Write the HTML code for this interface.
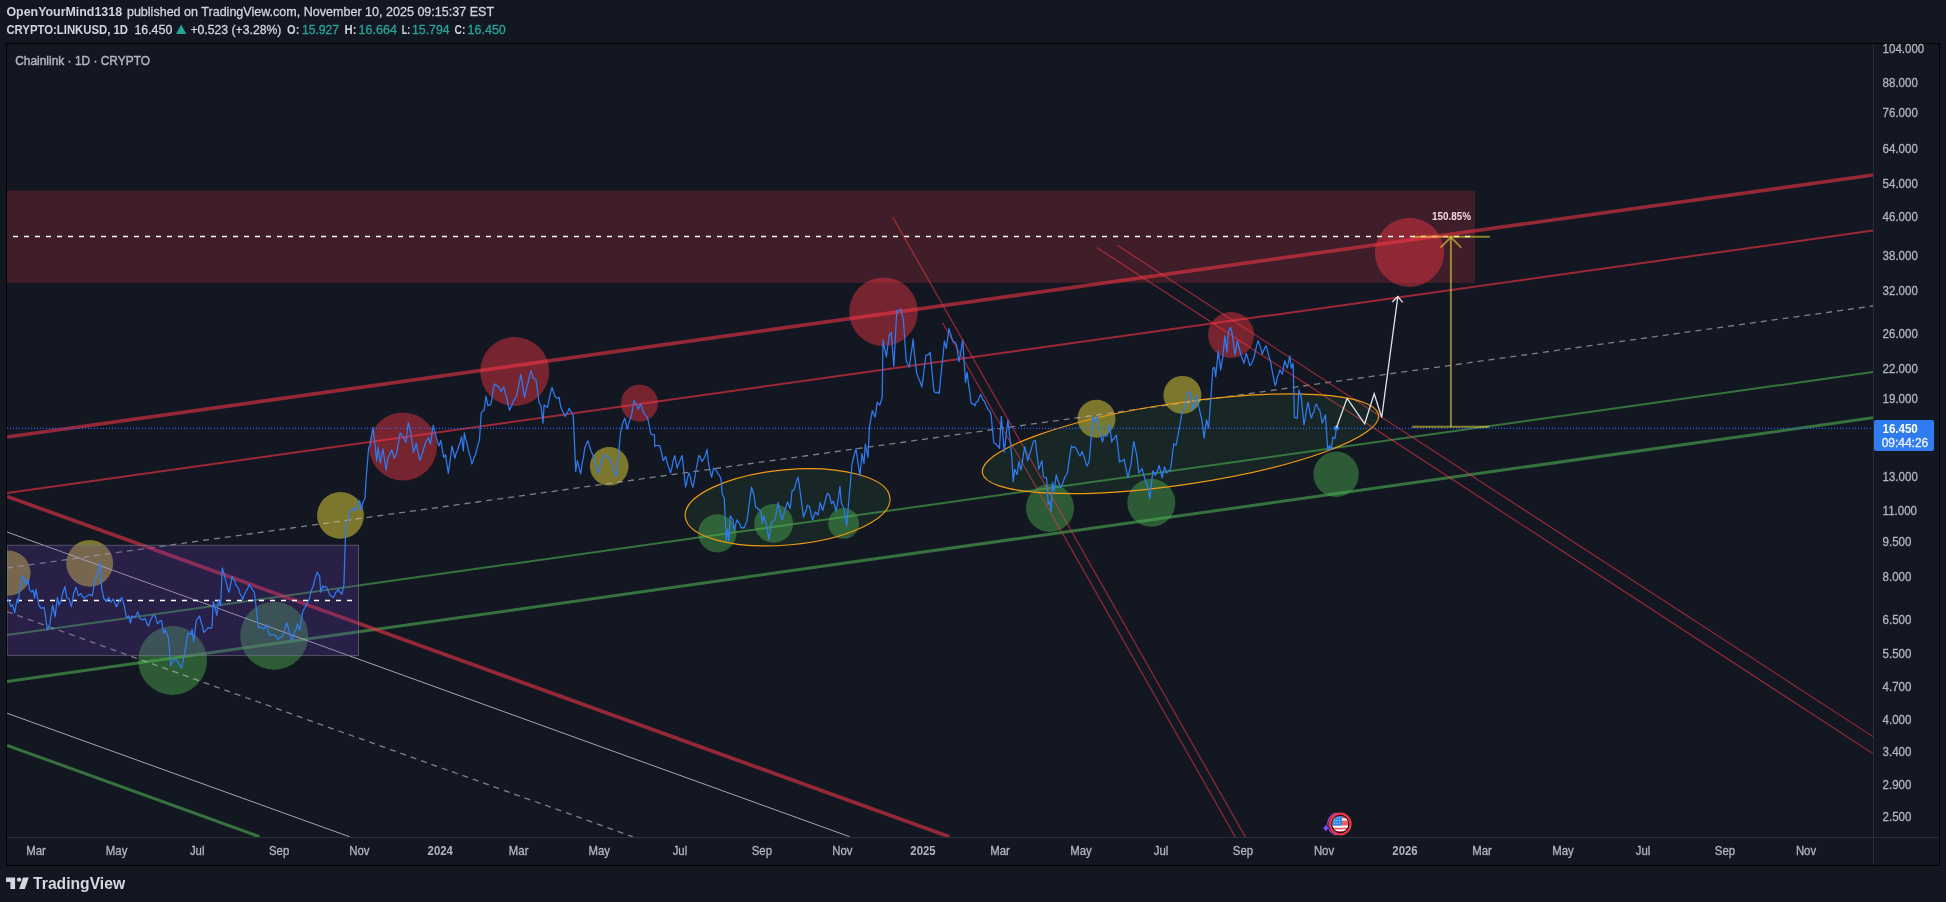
<!DOCTYPE html>
<html><head><meta charset="utf-8">
<style>
html,body{margin:0;padding:0;}
body{width:1946px;height:902px;overflow:hidden;background:#131722;position:relative;}
svg{position:absolute;left:0;top:0;font-family:"Liberation Sans",sans-serif;}
.tx{will-change:transform;}
</style></head><body>
<svg width="1946" height="902" viewBox="0 0 1946 902">
<defs><clipPath id="cp"><rect x="7" y="44" width="1866" height="793"/></clipPath></defs>
<rect x="6.5" y="43.5" width="1933" height="822" fill="#131722" stroke="#000" stroke-width="1"/>
<g clip-path="url(#cp)">
<rect x="7" y="190.6" width="1468" height="92.3" fill="rgba(242,54,69,0.2)"/>
<g fill="rgba(242,54,69,0.45)">
<circle cx="403" cy="446.5" r="34"/>
<circle cx="514.7" cy="371.5" r="34.5"/>
<circle cx="639.5" cy="403.2" r="18.5"/>
<circle cx="883.5" cy="311.8" r="34.3"/>
<circle cx="1231.1" cy="334.9" r="23"/>
<circle cx="1409.5" cy="252.4" r="34.6"/>
</g>
<g fill="rgba(255,235,59,0.45)">
<circle cx="8" cy="573.1" r="22.6"/>
<circle cx="89.7" cy="563.3" r="23.4"/>
<circle cx="340.5" cy="515.4" r="23.4"/>
<circle cx="609.2" cy="466.3" r="19.3"/>
<circle cx="1096.5" cy="418.7" r="19"/>
<circle cx="1182.4" cy="394.9" r="19"/>
</g>
<g fill="rgba(76,175,80,0.45)">
<circle cx="172.6" cy="660.5" r="34.4"/>
<circle cx="274.2" cy="635.7" r="34"/>
<circle cx="717.3" cy="533.3" r="19.1"/>
<circle cx="773.7" cy="523.4" r="19.4"/>
<circle cx="843.7" cy="523.4" r="15.4"/>
<circle cx="1050" cy="508" r="24"/>
<circle cx="1151.3" cy="502.8" r="24"/>
<circle cx="1336.1" cy="474.3" r="22.7"/>
</g>
<line x1="13" y1="236.6" x2="1470" y2="236.6" stroke="#fff" stroke-width="1.5" stroke-dasharray="5,6"/>
<line x1="7" y1="437" x2="1873" y2="175" stroke="rgba(242,54,69,0.58)" stroke-width="3.7"/>
<line x1="7" y1="493" x2="1873" y2="230.6" stroke="rgba(242,54,69,0.62)" stroke-width="2"/>
<line x1="7" y1="568" x2="1873" y2="306" stroke="rgba(200,200,205,0.6)" stroke-width="1.3" stroke-dasharray="6,5"/>
<line x1="7" y1="635" x2="1873" y2="372" stroke="rgba(76,175,80,0.6)" stroke-width="2"/>
<line x1="7" y1="681.5" x2="1873" y2="417.8" stroke="rgba(76,175,80,0.6)" stroke-width="3"/>
<line x1="7" y1="496.4" x2="949.3" y2="836.7" stroke="rgba(242,54,69,0.58)" stroke-width="3.7"/>
<line x1="7" y1="532" x2="849.6" y2="836.7" stroke="rgba(215,215,220,0.75)" stroke-width="1"/>
<line x1="7" y1="611.6" x2="632.7" y2="836.7" stroke="rgba(200,200,205,0.6)" stroke-width="1.3" stroke-dasharray="6,5"/>
<line x1="7" y1="713.2" x2="349.4" y2="836.7" stroke="rgba(215,215,220,0.75)" stroke-width="1"/>
<line x1="7" y1="745.3" x2="259.5" y2="836.7" stroke="rgba(76,175,80,0.6)" stroke-width="3"/>
<line x1="892.8" y1="217.2" x2="1245.4" y2="837" stroke="rgba(242,54,69,0.6)" stroke-width="1.2"/>
<line x1="942.5" y1="322.8" x2="1235.3" y2="837" stroke="rgba(242,54,69,0.6)" stroke-width="1.2"/>
<line x1="1096.5" y1="247.4" x2="1873" y2="753.6" stroke="rgba(242,54,69,0.6)" stroke-width="1.2"/>
<line x1="1117.7" y1="245.6" x2="1873" y2="736.6" stroke="rgba(242,54,69,0.6)" stroke-width="1.2"/>
<ellipse cx="787.6" cy="507.3" rx="102.8" ry="37.6" transform="rotate(-5.16 787.6 507.3)" fill="rgba(76,175,80,0.1)" stroke="#F29A12" stroke-width="1.2"/>
<ellipse cx="1180.5" cy="443.8" rx="200.2" ry="41" transform="rotate(-8.31 1180.5 443.8)" fill="rgba(76,175,80,0.1)" stroke="#F29A12" stroke-width="1.2"/>
<rect x="7" y="545.3" width="351.5" height="110.3" fill="rgba(103,58,183,0.25)" stroke="rgba(120,123,134,0.6)" stroke-width="1"/>
<line x1="6" y1="600.5" x2="352.6" y2="600.5" stroke="#fff" stroke-width="1.6" stroke-dasharray="5,6"/>
<line x1="7" y1="428.3" x2="1873" y2="428.3" stroke="#2962FF" stroke-width="1.2" stroke-dasharray="1,2"/>
<path d="M7.0,598.2 L8.2,600.2 L9.3,602.1 L10.9,606.7 L12.4,604.4 L13.6,608.6 L14.7,612.9 L15.9,606.0 L17.1,599.0 L18.3,602.8 L19.4,592.8 L20.5,585.0 L21.7,577.2 L23.3,576.0 L24.5,580.5 L25.6,585.0 L26.8,581.9 L27.9,578.8 L29.5,589.7 L30.6,590.9 L31.8,592.0 L33.4,590.4 L34.5,598.2 L36.0,589.3 L37.4,597.2 L38.8,605.2 L40.0,606.8 L41.1,608.3 L42.7,607.9 L44.2,607.5 L45.8,618.6 L47.3,629.7 L48.5,627.2 L49.7,624.6 L51.2,614.9 L52.8,605.2 L54.0,611.0 L55.1,616.8 L56.2,607.1 L57.4,597.4 L59.0,605.2 L60.1,602.5 L61.3,599.7 L62.8,592.8 L63.9,589.7 L64.9,586.6 L66.7,597.4 L67.9,598.2 L69.1,599.0 L70.2,602.9 L71.4,606.7 L72.6,600.1 L73.7,593.5 L74.8,590.4 L76.0,587.3 L77.2,591.6 L78.4,595.9 L79.6,594.7 L80.7,593.5 L82.2,595.9 L83.8,598.2 L84.9,597.4 L86.1,596.6 L87.7,595.5 L89.2,594.3 L90.8,595.1 L92.3,595.9 L93.5,589.0 L94.7,582.0 L96.0,577.4 L97.2,572.8 L98.5,569.5 L100.1,562.5 L101.6,588.1 L102.8,593.5 L104.0,599.0 L105.5,600.1 L107.1,601.3 L108.6,597.4 L109.8,599.8 L111.0,602.1 L112.2,600.5 L113.3,599.0 L114.8,602.9 L116.4,606.7 L118.0,603.6 L119.5,600.5 L120.7,599.0 L121.8,597.4 L122.9,601.3 L124.1,605.2 L125.3,611.4 L126.5,617.6 L127.7,616.8 L128.8,616.0 L130.4,623.0 L131.9,616.0 L133.4,616.8 L135.0,617.6 L136.4,614.7 L137.8,611.7 L139.7,618.4 L141.2,619.1 L142.8,619.9 L143.9,619.1 L145.1,618.4 L146.6,622.2 L148.2,626.1 L149.4,623.8 L150.6,619.6 L151.7,618.1 L152.9,615.3 L154.1,615.6 L155.2,616.0 L156.3,619.9 L157.5,623.8 L158.8,622.4 L160.1,620.6 L161.4,620.7 L162.6,626.9 L163.7,633.1 L165.3,630.0 L166.9,633.9 L168.4,637.8 L169.6,651.8 L170.7,665.7 L171.8,663.3 L173.0,660.9 L174.3,660.7 L175.6,659.3 L176.9,660.3 L178.2,662.6 L179.5,664.9 L180.6,666.5 L181.6,668.1 L183.2,660.2 L184.8,652.3 L186.4,642.8 L187.9,633.3 L189.5,633.8 L191.1,634.4 L192.1,629.1 L193.6,641.7 L194.9,631.2 L196.3,620.7 L197.9,618.4 L199.5,616.0 L200.9,621.3 L202.3,625.7 L203.7,632.3 L205.3,630.7 L206.9,629.1 L208.2,627.5 L209.5,627.9 L210.8,628.4 L212.1,627.0 L213.2,601.7 L214.4,605.3 L215.6,610.1 L216.8,615.4 L218.5,599.6 L219.6,602.8 L220.6,605.9 L222.3,568.0 L223.8,573.2 L225.2,578.5 L226.5,583.4 L227.7,588.8 L229.0,592.2 L230.6,584.3 L232.2,576.4 L233.5,579.2 L234.8,581.4 L236.1,585.5 L237.4,586.9 L238.7,588.9 L240.1,594.2 L241.4,595.9 L242.7,599.6 L244.0,595.7 L245.2,592.7 L246.5,590.2 L247.7,588.6 L249.0,584.8 L250.3,585.8 L251.7,588.7 L253.0,590.7 L254.3,592.2 L255.7,603.8 L257.1,616.2 L258.5,628.0 L259.8,627.1 L261.1,627.4 L262.5,628.1 L263.8,629.1 L265.4,627.0 L266.9,624.9 L268.0,629.6 L269.1,634.4 L270.4,635.1 L271.6,634.6 L272.9,634.5 L274.1,635.4 L275.4,635.4 L276.6,637.5 L277.9,639.6 L279.1,638.4 L280.3,637.0 L281.5,637.2 L282.7,635.4 L284.1,631.7 L285.6,626.3 L287.0,622.8 L288.2,627.5 L289.4,631.8 L290.6,637.2 L291.8,640.7 L293.2,637.1 L294.6,631.7 L296.1,629.3 L297.5,623.8 L298.6,627.0 L299.6,630.1 L301.2,620.7 L302.8,611.2 L304.4,608.5 L305.9,605.9 L307.5,602.8 L309.1,599.6 L310.1,595.4 L311.2,591.2 L312.2,588.5 L313.3,585.9 L314.6,580.3 L315.8,576.6 L317.1,572.2 L318.4,574.3 L319.6,576.4 L320.7,592.2 L321.8,589.0 L322.8,585.9 L324.2,587.3 L325.6,586.4 L327.0,588.0 L328.6,591.7 L330.2,595.4 L331.8,596.5 L333.3,597.5 L334.5,595.3 L335.8,592.1 L337.0,591.6 L338.2,589.0 L339.4,591.5 L340.6,592.7 L341.8,594.3 L342.9,589.5 L343.9,584.8 L344.9,553.8 L346.0,522.7 L347.1,521.7 L348.1,520.6 L349.1,515.9 L350.2,511.1 L351.8,509.5 L353.4,507.9 L354.4,509.5 L355.5,511.1 L356.9,508.5 L358.3,503.5 L359.7,500.5 L361.4,510.0 L362.8,502.6 L363.9,500.5 L364.9,498.4 L366.3,476.3 L367.5,462.1 L368.6,448.0 L370.1,445.2 L371.5,436.2 L372.9,427.3 L374.8,442.3 L376.7,461.2 L378.0,447.1 L379.2,455.1 L380.4,463.1 L381.6,456.0 L382.9,448.9 L384.5,459.5 L386.1,470.2 L388.0,457.4 L389.3,455.4 L390.5,452.6 L391.8,449.9 L393.0,454.1 L394.2,458.4 L395.4,456.0 L396.5,453.7 L397.7,447.0 L399.0,439.7 L400.2,432.9 L401.6,434.8 L403.1,436.7 L404.5,439.5 L405.9,442.3 L407.1,432.5 L408.3,422.6 L409.5,426.8 L410.6,431.0 L412.0,441.9 L413.4,452.7 L414.9,448.0 L416.3,443.3 L417.5,449.9 L418.8,455.8 L420.0,460.3 L421.2,456.5 L422.5,452.7 L424.1,447.5 L425.7,442.3 L427.1,440.0 L428.5,437.6 L430.4,444.2 L431.8,434.8 L433.2,425.4 L434.6,431.0 L436.0,436.7 L437.4,441.4 L438.9,446.1 L440.8,440.5 L442.2,448.9 L443.6,457.4 L445.5,454.6 L446.9,464.0 L448.3,473.4 L449.6,464.2 L450.8,455.6 L452.1,446.1 L453.5,452.2 L454.9,458.4 L456.2,452.9 L457.5,450.2 L458.9,445.8 L460.2,442.3 L461.5,436.7 L463.4,450.8 L464.3,432.9 L465.6,438.9 L466.8,442.7 L468.1,448.2 L469.3,454.1 L470.6,457.6 L471.8,464.0 L473.1,460.8 L474.3,456.9 L475.6,454.6 L476.9,448.9 L478.1,444.1 L479.4,440.5 L481.3,412.2 L482.7,411.2 L484.1,410.3 L486.0,396.2 L487.9,405.6 L489.3,405.1 L490.7,404.7 L492.0,398.5 L493.2,389.9 L494.5,383.9 L495.9,384.9 L497.3,385.8 L498.6,387.0 L499.8,389.3 L501.1,391.5 L502.5,389.1 L503.9,386.8 L505.3,393.6 L506.7,397.5 L508.1,404.3 L509.5,410.3 L510.8,407.3 L512.0,405.0 L513.3,400.9 L514.6,399.5 L515.8,397.4 L517.1,394.3 L518.3,387.1 L519.6,380.9 L520.8,374.5 L522.1,381.7 L523.3,390.6 L524.6,397.1 L526.5,387.7 L527.7,384.6 L528.9,378.3 L530.0,374.1 L531.2,370.7 L532.2,374.5 L533.3,378.3 L534.5,378.7 L535.8,379.1 L536.9,386.4 L538.0,394.5 L539.1,403.2 L540.8,404.9 L541.9,414.0 L543.0,423.2 L544.1,404.9 L545.2,405.7 L546.4,406.8 L547.5,407.4 L549.0,400.1 L550.5,392.8 L552.0,387.4 L553.5,392.0 L555.0,396.6 L556.2,397.4 L557.4,398.2 L559.1,397.4 L560.8,407.4 L562.2,410.2 L563.5,413.1 L564.9,416.5 L566.3,413.9 L567.7,412.1 L569.1,408.2 L570.5,410.9 L571.8,412.7 L573.2,414.9 L574.5,443.1 L575.7,471.4 L577.4,460.6 L578.5,465.3 L579.6,469.9 L580.7,473.9 L582.1,463.9 L583.5,457.2 L584.9,447.3 L586.4,444.0 L587.9,440.7 L589.4,445.9 L590.9,450.5 L592.4,454.0 L593.6,457.3 L594.9,460.6 L596.0,465.8 L597.1,469.2 L598.2,473.9 L599.9,467.2 L601.5,460.6 L602.9,458.4 L604.3,455.7 L605.7,454.8 L607.1,456.8 L608.4,457.0 L609.8,459.8 L610.9,462.3 L612.1,466.2 L613.2,470.6 L614.9,473.5 L616.5,476.4 L617.9,460.6 L619.3,446.1 L620.7,431.5 L622.1,425.9 L623.4,421.3 L624.8,418.2 L626.0,423.6 L627.3,429.0 L628.7,423.7 L630.1,419.1 L631.5,415.7 L632.8,408.2 L634.0,400.7 L635.2,402.8 L636.5,404.9 L638.1,409.1 L639.4,406.6 L640.6,404.1 L642.2,408.6 L643.9,413.2 L645.3,415.1 L646.7,416.4 L648.1,419.9 L649.4,426.5 L650.6,433.2 L651.9,434.7 L653.1,434.6 L654.4,434.8 L654.8,446.5 L656.0,445.4 L657.3,445.5 L658.5,445.5 L659.8,445.7 L660.9,450.3 L662.0,454.7 L663.1,460.6 L664.4,458.6 L665.6,456.5 L666.9,461.6 L668.1,466.1 L669.4,468.9 L670.6,473.1 L672.0,467.2 L673.3,460.4 L674.7,455.6 L676.0,461.9 L677.2,468.1 L678.5,463.9 L679.7,461.4 L681.0,458.1 L682.2,455.6 L683.9,471.4 L685.5,487.2 L686.6,483.4 L687.8,476.9 L688.9,473.1 L690.3,476.6 L691.6,483.7 L693.0,487.2 L694.5,479.4 L695.9,470.5 L697.3,463.6 L698.8,455.6 L699.9,456.3 L701.1,459.6 L702.2,461.5 L703.6,459.0 L705.0,456.5 L706.0,452.9 L707.0,449.3 L708.3,461.3 L709.4,467.8 L710.5,472.8 L711.6,477.2 L712.6,472.5 L713.6,467.9 L715.0,469.2 L716.3,470.6 L717.8,473.8 L719.4,475.3 L720.9,478.6 L722.3,493.9 L723.3,496.2 L724.3,498.5 L725.3,519.8 L726.3,541.1 L727.6,529.1 L728.9,541.1 L730.3,515.8 L731.6,517.8 L732.9,519.8 L734.2,530.5 L735.5,525.1 L736.9,519.8 L738.2,521.9 L739.6,523.8 L740.9,527.1 L742.0,528.0 L743.1,527.7 L744.2,527.8 L745.5,524.5 L746.9,521.1 L748.4,510.5 L750.0,498.1 L751.5,487.2 L752.9,491.5 L754.2,495.9 L755.5,507.2 L756.6,507.1 L757.8,509.3 L758.9,509.2 L759.9,510.5 L760.9,511.8 L762.2,523.1 L763.5,515.8 L764.9,519.8 L766.2,523.8 L767.5,531.5 L768.8,539.1 L770.1,530.8 L771.5,522.5 L773.1,521.1 L774.8,519.8 L775.9,515.3 L777.0,509.2 L778.1,502.5 L779.4,509.1 L780.8,514.9 L782.1,519.8 L783.5,515.9 L784.8,510.1 L786.1,506.4 L787.5,501.9 L788.8,505.2 L790.1,508.5 L791.1,499.6 L792.1,490.6 L793.1,490.2 L794.1,489.9 L795.4,485.3 L796.8,480.2 L798.1,477.2 L799.4,486.0 L800.8,496.6 L802.1,506.6 L803.4,517.2 L804.7,513.7 L806.1,510.4 L807.4,505.2 L808.4,505.9 L809.4,506.5 L810.5,510.8 L811.6,516.5 L812.7,519.8 L814.0,515.8 L815.4,511.8 L816.8,513.5 L818.1,515.2 L819.1,508.9 L820.1,502.5 L821.4,506.5 L822.7,510.5 L823.7,506.5 L824.7,502.5 L826.0,497.9 L827.4,493.2 L828.4,494.2 L829.4,495.2 L830.4,499.5 L831.4,503.9 L832.4,502.5 L833.4,501.2 L834.7,506.2 L836.0,511.2 L837.3,504.3 L838.7,496.0 L840.0,486.6 L841.3,502.5 L842.6,505.5 L844.0,508.5 L845.4,517.1 L846.7,525.8 L848.0,510.1 L849.4,494.5 L850.7,479.2 L852.0,464.6 L853.3,458.5 L854.7,453.2 L856.0,448.6 L857.3,458.0 L858.7,467.8 L860.0,475.9 L861.0,464.6 L862.0,453.3 L863.0,458.6 L864.0,463.9 L865.3,444.0 L866.6,450.6 L868.0,457.3 L869.4,427.6 L870.8,419.1 L872.3,410.6 L873.7,413.9 L875.1,417.2 L876.2,409.6 L877.3,402.1 L878.5,403.6 L879.8,405.0 L881.0,401.2 L882.2,397.4 L883.0,339.9 L884.1,346.5 L885.3,351.2 L886.4,356.9 L887.8,346.0 L889.2,335.2 L891.1,332.4 L892.5,349.4 L893.9,366.3 L895.3,338.5 L896.8,310.7 L898.0,310.5 L899.3,310.2 L900.5,308.8 L901.9,314.0 L903.3,319.2 L904.8,339.9 L906.2,360.7 L907.8,364.0 L909.4,367.3 L910.6,356.8 L911.9,348.9 L913.1,339.0 L914.2,351.1 L915.4,361.7 L916.5,372.0 L917.8,376.4 L919.1,379.5 L920.5,382.5 L921.8,387.1 L923.2,377.2 L924.6,365.3 L926.0,355.0 L927.4,354.8 L928.7,354.4 L930.1,352.2 L931.4,364.8 L932.6,377.7 L933.9,390.8 L935.2,392.7 L936.5,392.8 L937.9,392.1 L939.2,393.7 L940.5,379.5 L941.8,366.4 L943.1,355.2 L944.4,340.9 L946.3,348.4 L947.6,338.5 L949.0,328.6 L950.6,334.2 L952.3,339.9 L953.7,342.3 L955.1,342.2 L956.5,344.7 L957.7,353.1 L958.9,361.6 L960.2,355.2 L961.4,348.4 L962.7,339.9 L964.1,361.1 L965.5,382.3 L967.0,372.0 L968.4,382.8 L969.8,392.3 L971.2,403.1 L972.5,404.2 L973.7,404.0 L975.0,405.9 L976.4,401.8 L977.8,401.5 L979.2,397.8 L980.6,394.6 L981.8,396.8 L983.0,400.0 L984.1,400.8 L985.3,403.1 L986.7,406.9 L988.1,409.6 L989.6,410.8 L991.0,414.4 L992.4,428.5 L993.8,442.7 L995.2,443.5 L996.6,445.0 L998.1,446.2 L999.5,448.3 L1001.3,416.3 L1002.8,434.2 L1004.2,452.1 L1005.4,441.6 L1006.7,430.1 L1007.9,420.0 L1009.2,431.8 L1010.4,443.0 L1011.7,455.9 L1013.2,481.6 L1014.7,469.2 L1015.9,471.9 L1017.1,474.7 L1018.9,461.5 L1019.9,465.8 L1020.9,470.0 L1022.2,463.3 L1023.5,454.1 L1024.8,446.7 L1026.2,453.7 L1027.6,460.7 L1028.7,457.0 L1029.9,453.7 L1031.0,449.8 L1032.2,445.6 L1033.4,441.3 L1034.4,440.9 L1035.4,440.5 L1036.5,451.1 L1037.7,459.4 L1038.8,469.2 L1040.3,464.9 L1041.9,460.7 L1043.5,477.0 L1045.0,477.4 L1046.6,477.8 L1048.1,504.1 L1049.7,501.0 L1051.2,511.9 L1052.5,482.4 L1054.3,491.0 L1056.2,474.7 L1057.6,480.2 L1059.1,483.5 L1060.5,487.9 L1061.9,484.9 L1063.3,481.7 L1064.7,477.3 L1066.1,475.3 L1067.5,472.3 L1068.8,462.7 L1070.1,453.5 L1071.4,446.0 L1072.9,447.5 L1074.5,446.7 L1076.0,448.3 L1077.3,450.8 L1078.6,454.0 L1079.9,456.0 L1081.1,453.7 L1082.2,451.4 L1083.4,455.2 L1084.6,458.3 L1085.7,462.5 L1086.9,466.1 L1088.1,463.8 L1089.2,461.5 L1090.4,446.9 L1091.6,432.7 L1092.8,417.2 L1094.7,421.9 L1095.8,419.2 L1097.0,416.5 L1098.2,422.7 L1099.3,428.9 L1100.8,435.5 L1102.4,442.1 L1104.0,435.9 L1105.5,435.9 L1107.1,435.9 L1108.2,430.0 L1109.4,424.2 L1110.6,433.1 L1111.7,442.1 L1112.9,439.3 L1114.1,438.8 L1115.2,436.2 L1116.4,435.1 L1118.0,448.6 L1119.5,462.2 L1121.0,460.6 L1122.6,460.8 L1124.1,459.1 L1125.4,465.4 L1126.7,471.7 L1128.0,477.8 L1129.5,470.8 L1131.1,463.8 L1132.4,452.6 L1133.8,441.3 L1135.2,447.9 L1136.6,454.5 L1137.8,463.8 L1138.9,473.1 L1140.5,470.8 L1142.0,468.5 L1143.2,472.8 L1144.3,477.0 L1145.8,481.2 L1147.4,485.5 L1148.6,492.1 L1149.8,498.7 L1151.3,484.8 L1152.9,470.8 L1154.1,473.1 L1155.2,475.4 L1156.5,472.7 L1157.8,469.8 L1159.1,465.4 L1160.7,471.6 L1162.2,477.8 L1163.3,472.4 L1164.5,466.9 L1165.7,470.0 L1166.8,473.1 L1168.1,471.4 L1169.4,470.3 L1170.7,468.5 L1172.2,456.1 L1173.8,443.6 L1174.9,444.4 L1176.1,445.2 L1177.4,438.3 L1178.7,431.4 L1179.9,425.0 L1181.2,417.5 L1182.5,410.7 L1184.1,409.8 L1185.2,404.4 L1186.4,398.7 L1187.5,393.2 L1188.8,392.4 L1190.0,391.5 L1191.2,400.6 L1192.5,409.8 L1193.8,406.2 L1195.0,400.9 L1196.3,395.7 L1197.7,401.9 L1199.1,408.2 L1200.5,414.0 L1201.9,419.8 L1203.0,429.0 L1204.1,438.1 L1205.3,429.0 L1206.6,419.8 L1207.6,424.0 L1208.6,428.1 L1210.0,409.1 L1211.5,389.3 L1212.9,368.2 L1214.6,367.4 L1215.7,376.6 L1217.0,363.7 L1218.2,350.8 L1219.5,360.4 L1220.7,369.9 L1221.8,363.2 L1222.9,356.6 L1223.9,346.2 L1224.9,335.8 L1225.9,344.1 L1226.9,352.4 L1228.6,330.8 L1229.7,329.1 L1230.7,327.5 L1232.4,335.0 L1233.7,344.9 L1234.9,354.9 L1236.2,347.9 L1237.4,340.8 L1239.1,347.5 L1240.7,354.1 L1242.3,358.7 L1244.0,363.3 L1245.1,358.3 L1246.2,353.3 L1247.4,356.8 L1248.7,361.7 L1249.9,365.7 L1251.3,364.1 L1252.6,361.1 L1254.0,357.4 L1255.4,350.9 L1256.8,345.3 L1258.2,340.8 L1259.6,345.1 L1260.9,348.6 L1262.3,354.1 L1263.6,350.7 L1264.9,347.5 L1266.2,345.8 L1267.7,351.5 L1269.1,357.1 L1270.6,361.6 L1272.3,371.6 L1273.7,378.6 L1275.1,385.7 L1276.3,382.8 L1277.4,376.9 L1278.6,374.4 L1279.8,369.9 L1281.0,372.0 L1282.3,374.1 L1283.5,367.5 L1284.8,360.8 L1286.0,364.5 L1287.3,368.2 L1288.5,362.0 L1289.8,355.8 L1291.4,368.2 L1293.1,363.3 L1294.4,417.3 L1295.8,417.8 L1297.3,418.2 L1298.9,389.9 L1300.2,394.0 L1301.4,398.2 L1302.7,411.5 L1303.9,424.8 L1305.3,417.7 L1306.7,408.9 L1308.1,402.3 L1309.2,408.6 L1310.3,414.1 L1311.4,418.2 L1312.6,413.9 L1313.8,412.3 L1314.9,407.3 L1316.1,404.0 L1317.3,405.9 L1318.5,409.1 L1319.7,409.8 L1321.0,416.5 L1322.2,423.1 L1323.8,419.0 L1325.5,414.8 L1326.6,432.6 L1327.7,450.5 L1329.6,445.2 L1331.2,449.6 L1333.0,437.2 L1334.0,437.9 L1335.0,438.5 L1336.4,428.0" fill="none" stroke="#2F7BF0" stroke-width="1.25" stroke-linejoin="round"/>
<circle cx="1336.4" cy="428.1" r="2.5" fill="#2F7BF0"/>
<polyline points="1336.4,427.8 1347.1,398.3 1364.7,423.8 1374.2,393.7 1381.7,417.5 1397.8,296.8" fill="none" stroke="#E0E3EB" stroke-width="1.3"/>
<polyline points="1392.3,302 1397.8,296.5 1402.7,302.4" fill="none" stroke="#E0E3EB" stroke-width="1.3"/>
<g stroke="rgba(255,235,59,0.5)" stroke-width="2" fill="none">
<line x1="1412.4" y1="236.8" x2="1489.9" y2="236.8"/>
<line x1="1412" y1="426.8" x2="1489" y2="426.8"/>
<line x1="1450.9" y1="237.5" x2="1450.9" y2="426.8"/>
<polyline points="1440.5,247.6 1450.9,237.2 1461.2,247.6"/>
</g>
</g>
<line x1="1873.5" y1="44" x2="1873.5" y2="865" stroke="#2A2E39" stroke-width="1"/>
<line x1="7" y1="837.5" x2="1939" y2="837.5" stroke="#2A2E39" stroke-width="1"/>
<rect x="1874" y="420" width="60" height="31" rx="2" fill="#2F7BF0"/>
<!-- flag icon -->
<g>
<path d="M1336.5,813 A11.4,11.4 0 0 0 1336.5,835.2" fill="none" stroke="#B042D8" stroke-width="1.3"/>
<path d="M1326,823.2 Q1327,827.2 1330.4,828 Q1327,828.9 1326,832.8 Q1325,828.9 1321.6,828 Q1325,827.2 1326,823.2Z" fill="#7C4DFF" stroke="#0B0E14" stroke-width="0.8"/>
<circle cx="1340.3" cy="824" r="10.3" fill="#131722" stroke="#F23645" stroke-width="2.2"/>
<clipPath id="fc"><circle cx="1340.3" cy="824" r="8"/></clipPath>
<g clip-path="url(#fc)">
<rect x="1332" y="815" width="17" height="18" fill="#F25B5B"/>
<rect x="1332" y="818.5" width="17" height="2" fill="#fff"/>
<rect x="1332" y="825.5" width="17" height="2.2" fill="#fff"/>
<rect x="1332" y="829.5" width="17" height="1.5" fill="#fff"/>
<rect x="1332" y="815" width="10" height="10.5" fill="#2E86E6"/>
<g fill="#D8E8FF"><circle cx="1334.6" cy="818" r="0.6"/><circle cx="1337" cy="818" r="0.6"/><circle cx="1339.5" cy="818" r="0.6"/><circle cx="1334.6" cy="820.5" r="0.6"/><circle cx="1337" cy="820.5" r="0.6"/><circle cx="1339.5" cy="820.5" r="0.6"/><circle cx="1334.6" cy="823" r="0.6"/><circle cx="1337" cy="823" r="0.6"/><circle cx="1339.5" cy="823" r="0.6"/></g>
</g>
</g>
<!-- TV logo -->
<g fill="#D6D8E0">
<path d="M6.1,877.4 H15.1 V888.9 H10.4 V882 H6.1Z"/>
<circle cx="19.1" cy="879.6" r="2.2"/>
<path d="M23,877.4 H28.8 L24.8,888.9 H19.1Z"/>
</g>
<g class="tx">
<text transform="translate(1882.60,52.50) scale(0.9600,1)" font-size="12" font-weight="normal" fill="#B2B5BE" stroke="#B2B5BE" stroke-width="0.3" >104.000</text>
<text transform="translate(1882.60,86.50) scale(0.9600,1)" font-size="12" font-weight="normal" fill="#B2B5BE" stroke="#B2B5BE" stroke-width="0.3" >88.000</text>
<text transform="translate(1882.60,117.00) scale(0.9600,1)" font-size="12" font-weight="normal" fill="#B2B5BE" stroke="#B2B5BE" stroke-width="0.3" >76.000</text>
<text transform="translate(1882.60,152.50) scale(0.9600,1)" font-size="12" font-weight="normal" fill="#B2B5BE" stroke="#B2B5BE" stroke-width="0.3" >64.000</text>
<text transform="translate(1882.60,187.50) scale(0.9600,1)" font-size="12" font-weight="normal" fill="#B2B5BE" stroke="#B2B5BE" stroke-width="0.3" >54.000</text>
<text transform="translate(1882.60,220.50) scale(0.9600,1)" font-size="12" font-weight="normal" fill="#B2B5BE" stroke="#B2B5BE" stroke-width="0.3" >46.000</text>
<text transform="translate(1882.60,259.50) scale(0.9600,1)" font-size="12" font-weight="normal" fill="#B2B5BE" stroke="#B2B5BE" stroke-width="0.3" >38.000</text>
<text transform="translate(1882.60,294.50) scale(0.9600,1)" font-size="12" font-weight="normal" fill="#B2B5BE" stroke="#B2B5BE" stroke-width="0.3" >32.000</text>
<text transform="translate(1882.60,337.50) scale(0.9600,1)" font-size="12" font-weight="normal" fill="#B2B5BE" stroke="#B2B5BE" stroke-width="0.3" >26.000</text>
<text transform="translate(1882.60,372.50) scale(0.9600,1)" font-size="12" font-weight="normal" fill="#B2B5BE" stroke="#B2B5BE" stroke-width="0.3" >22.000</text>
<text transform="translate(1882.60,402.50) scale(0.9600,1)" font-size="12" font-weight="normal" fill="#B2B5BE" stroke="#B2B5BE" stroke-width="0.3" >19.000</text>
<text transform="translate(1882.60,481.30) scale(0.9600,1)" font-size="12" font-weight="normal" fill="#B2B5BE" stroke="#B2B5BE" stroke-width="0.3" >13.000</text>
<text transform="translate(1882.60,515.00) scale(0.9600,1)" font-size="12" font-weight="normal" fill="#B2B5BE" stroke="#B2B5BE" stroke-width="0.3" >11.000</text>
<text transform="translate(1882.60,545.50) scale(0.9600,1)" font-size="12" font-weight="normal" fill="#B2B5BE" stroke="#B2B5BE" stroke-width="0.3" >9.500</text>
<text transform="translate(1882.60,580.50) scale(0.9600,1)" font-size="12" font-weight="normal" fill="#B2B5BE" stroke="#B2B5BE" stroke-width="0.3" >8.000</text>
<text transform="translate(1882.60,623.70) scale(0.9600,1)" font-size="12" font-weight="normal" fill="#B2B5BE" stroke="#B2B5BE" stroke-width="0.3" >6.500</text>
<text transform="translate(1882.60,658.30) scale(0.9600,1)" font-size="12" font-weight="normal" fill="#B2B5BE" stroke="#B2B5BE" stroke-width="0.3" >5.500</text>
<text transform="translate(1882.60,691.10) scale(0.9600,1)" font-size="12" font-weight="normal" fill="#B2B5BE" stroke="#B2B5BE" stroke-width="0.3" >4.700</text>
<text transform="translate(1882.60,723.50) scale(0.9600,1)" font-size="12" font-weight="normal" fill="#B2B5BE" stroke="#B2B5BE" stroke-width="0.3" >4.000</text>
<text transform="translate(1882.60,756.00) scale(0.9600,1)" font-size="12" font-weight="normal" fill="#B2B5BE" stroke="#B2B5BE" stroke-width="0.3" >3.400</text>
<text transform="translate(1882.60,788.80) scale(0.9600,1)" font-size="12" font-weight="normal" fill="#B2B5BE" stroke="#B2B5BE" stroke-width="0.3" >2.900</text>
<text transform="translate(1882.60,820.90) scale(0.9600,1)" font-size="12" font-weight="normal" fill="#B2B5BE" stroke="#B2B5BE" stroke-width="0.3" >2.500</text>
<text transform="translate(26.27,855.10) scale(0.9500,1)" font-size="12" font-weight="normal" fill="#B2B5BE" stroke="#B2B5BE" stroke-width="0.3" >Mar</text>
<text transform="translate(105.82,855.10) scale(0.9500,1)" font-size="12" font-weight="normal" fill="#B2B5BE" stroke="#B2B5BE" stroke-width="0.3" >May</text>
<text transform="translate(189.93,855.10) scale(0.9500,1)" font-size="12" font-weight="normal" fill="#B2B5BE" stroke="#B2B5BE" stroke-width="0.3" >Jul</text>
<text transform="translate(269.03,855.10) scale(0.9500,1)" font-size="12" font-weight="normal" fill="#B2B5BE" stroke="#B2B5BE" stroke-width="0.3" >Sep</text>
<text transform="translate(349.28,855.10) scale(0.9500,1)" font-size="12" font-weight="normal" fill="#B2B5BE" stroke="#B2B5BE" stroke-width="0.3" >Nov</text>
<text transform="translate(427.62,855.10) scale(0.9500,1)" font-size="12" font-weight="bold" fill="#B2B5BE" stroke="#B2B5BE" stroke-width="0" >2024</text>
<text transform="translate(508.87,855.10) scale(0.9500,1)" font-size="12" font-weight="normal" fill="#B2B5BE" stroke="#B2B5BE" stroke-width="0.3" >Mar</text>
<text transform="translate(588.52,855.10) scale(0.9500,1)" font-size="12" font-weight="normal" fill="#B2B5BE" stroke="#B2B5BE" stroke-width="0.3" >May</text>
<text transform="translate(672.63,855.10) scale(0.9500,1)" font-size="12" font-weight="normal" fill="#B2B5BE" stroke="#B2B5BE" stroke-width="0.3" >Jul</text>
<text transform="translate(751.74,855.10) scale(0.9500,1)" font-size="12" font-weight="normal" fill="#B2B5BE" stroke="#B2B5BE" stroke-width="0.3" >Sep</text>
<text transform="translate(832.28,855.10) scale(0.9500,1)" font-size="12" font-weight="normal" fill="#B2B5BE" stroke="#B2B5BE" stroke-width="0.3" >Nov</text>
<text transform="translate(910.32,855.10) scale(0.9500,1)" font-size="12" font-weight="bold" fill="#B2B5BE" stroke="#B2B5BE" stroke-width="0" >2025</text>
<text transform="translate(990.17,855.10) scale(0.9500,1)" font-size="12" font-weight="normal" fill="#B2B5BE" stroke="#B2B5BE" stroke-width="0.3" >Mar</text>
<text transform="translate(1070.22,855.10) scale(0.9500,1)" font-size="12" font-weight="normal" fill="#B2B5BE" stroke="#B2B5BE" stroke-width="0.3" >May</text>
<text transform="translate(1153.73,855.10) scale(0.9500,1)" font-size="12" font-weight="normal" fill="#B2B5BE" stroke="#B2B5BE" stroke-width="0.3" >Jul</text>
<text transform="translate(1232.84,855.10) scale(0.9500,1)" font-size="12" font-weight="normal" fill="#B2B5BE" stroke="#B2B5BE" stroke-width="0.3" >Sep</text>
<text transform="translate(1313.88,855.10) scale(0.9500,1)" font-size="12" font-weight="normal" fill="#B2B5BE" stroke="#B2B5BE" stroke-width="0.3" >Nov</text>
<text transform="translate(1392.32,855.10) scale(0.9500,1)" font-size="12" font-weight="bold" fill="#B2B5BE" stroke="#B2B5BE" stroke-width="0" >2026</text>
<text transform="translate(1472.17,855.10) scale(0.9500,1)" font-size="12" font-weight="normal" fill="#B2B5BE" stroke="#B2B5BE" stroke-width="0.3" >Mar</text>
<text transform="translate(1552.22,855.10) scale(0.9500,1)" font-size="12" font-weight="normal" fill="#B2B5BE" stroke="#B2B5BE" stroke-width="0.3" >May</text>
<text transform="translate(1635.73,855.10) scale(0.9500,1)" font-size="12" font-weight="normal" fill="#B2B5BE" stroke="#B2B5BE" stroke-width="0.3" >Jul</text>
<text transform="translate(1714.84,855.10) scale(0.9500,1)" font-size="12" font-weight="normal" fill="#B2B5BE" stroke="#B2B5BE" stroke-width="0.3" >Sep</text>
<text transform="translate(1795.88,855.10) scale(0.9500,1)" font-size="12" font-weight="normal" fill="#B2B5BE" stroke="#B2B5BE" stroke-width="0.3" >Nov</text>
<text transform="translate(6.40,16.40) scale(0.9562,1)" font-size="13" font-weight="bold" fill="#D1D4DC" stroke="#D1D4DC" stroke-width="0" >OpenYourMind1318</text>
<text transform="translate(126.90,16.40) scale(0.9658,1)" font-size="13" font-weight="normal" fill="#D1D4DC" stroke="#D1D4DC" stroke-width="0.3" >published on TradingView.com, November 10, 2025 09:15:37 EST</text>
<text transform="translate(6.40,33.90) scale(0.8737,1)" font-size="13" font-weight="bold" fill="#D1D4DC" stroke="#D1D4DC" stroke-width="0" >CRYPTO:LINKUSD, 1D</text>
<text transform="translate(134.40,33.90) scale(0.9548,1)" font-size="13" font-weight="normal" fill="#D1D4DC" stroke="#D1D4DC" stroke-width="0.3" >16.450</text>
<polygon points="176,33.9 186.3,33.9 181.15,24.4" fill="#26A69A"/>
<text transform="translate(190.40,33.90) scale(0.9401,1)" font-size="13" font-weight="normal" fill="#D1D4DC" stroke="#D1D4DC" stroke-width="0.3" >+0.523 (+3.28%)</text>
<text transform="translate(287.00,33.90) scale(0.8542,1)" font-size="13" font-weight="bold" fill="#D1D4DC" stroke="#D1D4DC" stroke-width="0" >O:</text>
<text transform="translate(301.90,33.90) scale(0.9347,1)" font-size="13" font-weight="normal" fill="#26A69A" stroke="#26A69A" stroke-width="0.3" >15.927</text>
<text transform="translate(344.50,33.90) scale(0.8686,1)" font-size="13" font-weight="bold" fill="#D1D4DC" stroke="#D1D4DC" stroke-width="0" >H:</text>
<text transform="translate(358.60,33.90) scale(0.9623,1)" font-size="13" font-weight="normal" fill="#26A69A" stroke="#26A69A" stroke-width="0.3" >16.664</text>
<text transform="translate(401.70,33.90) scale(0.7073,1)" font-size="13" font-weight="bold" fill="#D1D4DC" stroke="#D1D4DC" stroke-width="0" >L:</text>
<text transform="translate(412.00,33.90) scale(0.9472,1)" font-size="13" font-weight="normal" fill="#26A69A" stroke="#26A69A" stroke-width="0.3" >15.794</text>
<text transform="translate(454.60,33.90) scale(0.7883,1)" font-size="13" font-weight="bold" fill="#D1D4DC" stroke="#D1D4DC" stroke-width="0" >C:</text>
<text transform="translate(467.50,33.90) scale(0.9648,1)" font-size="13" font-weight="normal" fill="#26A69A" stroke="#26A69A" stroke-width="0.3" >16.450</text>
<text transform="translate(15.20,64.90) scale(0.8982,1)" font-size="13.3" font-weight="normal" fill="#B2B5BE" stroke="#B2B5BE" stroke-width="0.45" >Chainlink · 1D · CRYPTO</text>
<text transform="translate(33.10,888.90) scale(0.9798,1)" font-size="16" font-weight="bold" fill="#D6D8E0" stroke="#D6D8E0" stroke-width="0" >TradingView</text>
<text transform="translate(1432.00,220.10) scale(0.8986,1)" font-size="11" font-weight="bold" fill="#F2DADD" stroke="#F2DADD" stroke-width="0" >150.85%</text>
<text transform="translate(1882.50,433.00) scale(0.9619,1)" font-size="12" font-weight="bold" fill="#FFFFFF" stroke="#FFFFFF" stroke-width="0" >16.450</text>
<text transform="translate(1881.70,446.60) scale(0.9979,1)" font-size="12" font-weight="normal" fill="#F0F4FF" stroke="#F0F4FF" stroke-width="0.3" >09:44:26</text>
</g>
</svg>
</body></html>
